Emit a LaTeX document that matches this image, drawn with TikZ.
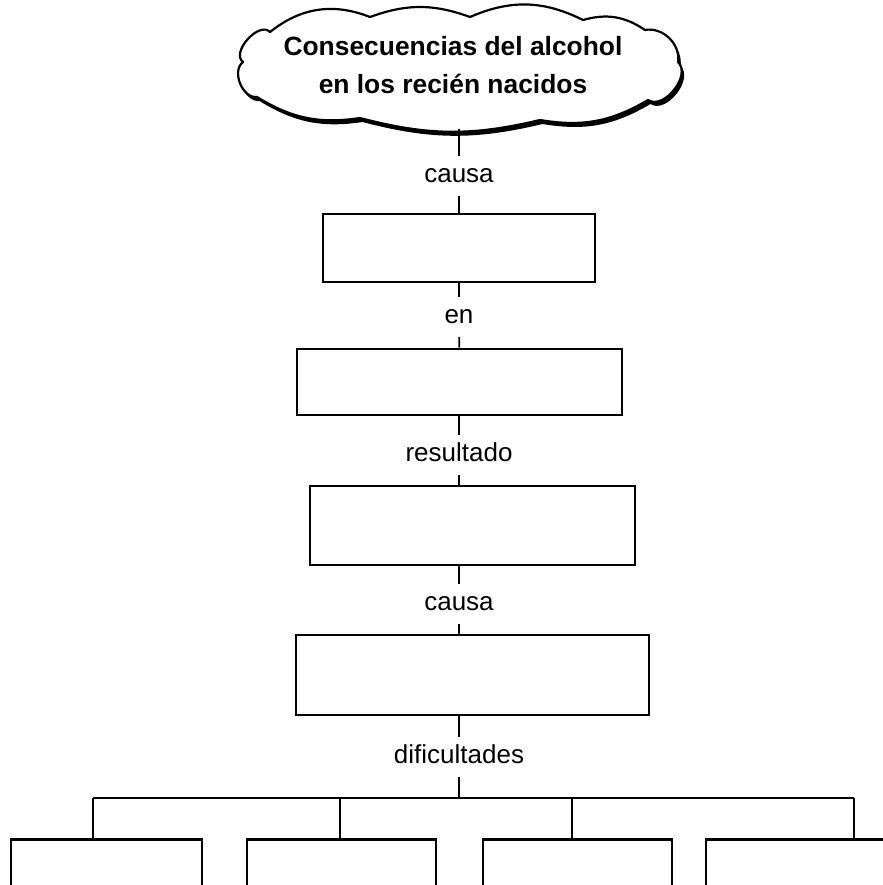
\documentclass[tikz,border=0pt]{standalone}
\usepackage{fontspec}
\setmainfont{Liberation Sans}
\usetikzlibrary{shadows}
\newlength{\du}
\setlength{\du}{0.5pt}

\begin{document}
\begin{tikzpicture}[
  caja/.style={draw=dialinecolor, fill=white, line width=2.6\du, inner sep=0pt},
  enlace/.style={font=\fontsize{13}{15}\selectfont, inner xsep=2pt, inner ysep=4pt, text height=9pt, text depth=2.5pt},
  linea/.style={draw=dialinecolor, line width=1.8\du},
  nube/.style={draw=dialinecolor, fill=white, line width=2.2\du, line join=round,
    drop shadow={fill=dialinecolor, opacity=1, shadow xshift=2.5\du, shadow yshift=-4\du}}
]
\pgftransformxscale{1.000000}
\pgftransformyscale{-1.000000}
\definecolor{dialinecolor}{rgb}{0.000000, 0.000000, 0.000000}
\pgfsetstrokecolor{dialinecolor}
\clip (0\du,0\du) rectangle (883\du,885\du);
% nube del tema
\begin{scope}[x=\du, y=\du]
\path[nube] (243,62) to[bend right=95] (270,32)
  to[bend right=30] (370,17) to[bend right=20] (470,17)
  to[bend right=25] (583,20) to[bend right=25] (645,30)
  to[bend right=55] (678,62) to[bend right=85] (648,100)
  to[bend right=20] (540,120) to[bend right=14] (360,118)
  to[bend right=20] (257,97) to[bend right=75] cycle;
\end{scope}
\node[align=center, font=\bfseries\fontsize{13.2}{19}\selectfont] (tema) at (453\du,65\du)
      {Consecuencias del alcohol\\en los reci\'en nacidos};
\coordinate (pie) at (459\du,129\du);
% cadena central
\node[enlace] (l1) at (459\du,176\du) {causa};
\node[caja, minimum width=272\du, minimum height=68\du] (b1) at (459\du,248\du) {};
\node[enlace] (l2) at (459\du,317\du) {en};
\node[caja, minimum width=325\du, minimum height=66\du] (b2) at (459.5\du,382\du) {};
\node[enlace] (l3) at (459\du,455\du) {resultado};
\node[caja, minimum width=325\du, minimum height=79\du] (b3) at (472.5\du,525.5\du) {};
\node[enlace] (l4) at (459\du,604\du) {causa};
\node[caja, minimum width=353\du, minimum height=80\du] (b4) at (472.5\du,675\du) {};
\node[enlace] (l5) at (459\du,757\du) {dificultades};
% cajas de abajo
\node[caja, anchor=north, minimum width=191\du, minimum height=100\du] (h1) at (106.5\du,838\du) {};
\node[caja, anchor=north, minimum width=189\du, minimum height=100\du] (h2) at (341.5\du,838\du) {};
\node[caja, anchor=north, minimum width=189\du, minimum height=100\du] (h3) at (577.5\du,838\du) {};
\node[caja, anchor=north, minimum width=191\du, minimum height=100\du] (h4) at (801.5\du,838\du) {};
\coordinate (r1) at (93\du,798\du);
\coordinate (r2) at (340\du,798\du);
\coordinate (r3) at (572\du,798\du);
\coordinate (r4) at (854\du,798\du);
% conectores
\draw[linea] (pie) -- (l1);
\draw[linea] (l1) -- (b1);
\draw[linea] (b1) -- (l2);
\draw[linea] (l2) -- (b2);
\draw[linea] (b2.south -| l3) -- (l3);
\draw[linea] (l3) -- (l3 |- b3.north);
\draw[linea] (l4 |- b3.south) -- (l4);
\draw[linea] (l4) -- (l4 |- b4.north);
\draw[linea] (l5 |- b4.south) -- (l5);
\draw[linea] (l5) -- (l5 |- r1);
\draw[linea] (r1) -- (r4);
\draw[linea] (r1) -- (r1 |- h1.north);
\draw[linea] (r2) -- (r2 |- h2.north);
\draw[linea] (r3) -- (r3 |- h3.north);
\draw[linea] (r4) -- (r4 |- h4.north);
\end{tikzpicture}
\end{document}
